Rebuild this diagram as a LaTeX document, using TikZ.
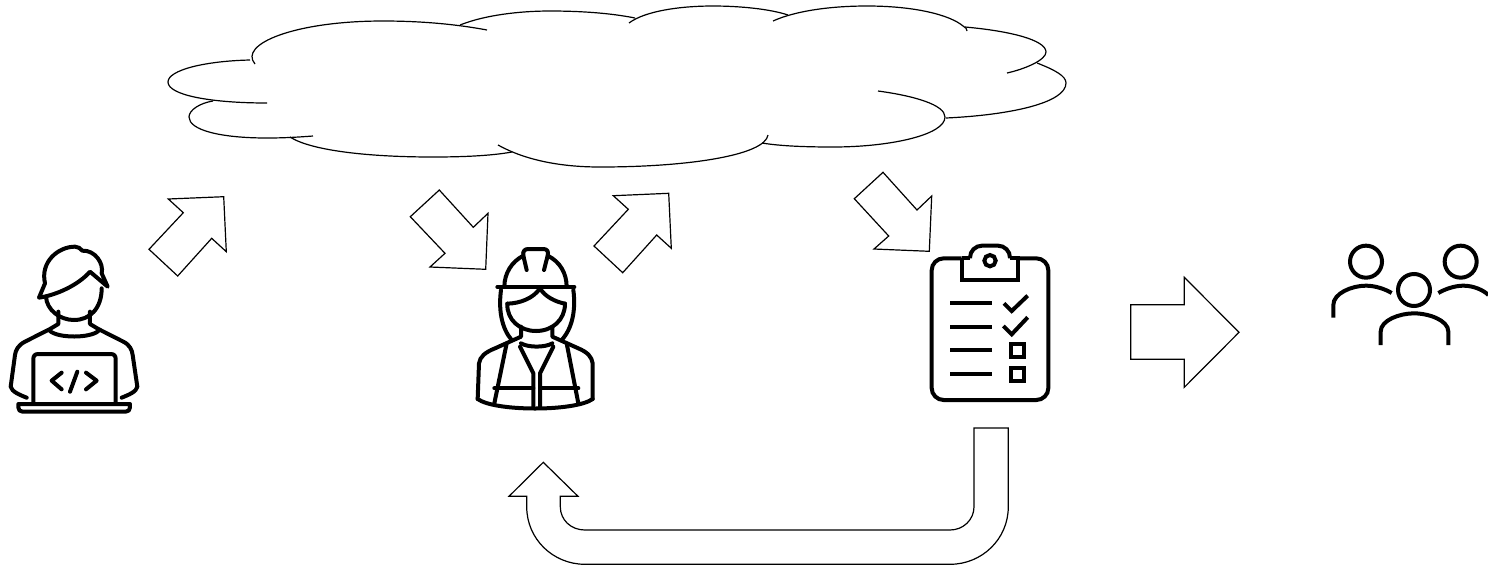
\documentclass[tikz,border=0pt]{standalone}
\tikzset{
  cloudline/.style={line width=0.6pt,black},
  blockarrow/.style={line width=0.6pt,black,line join=miter},
  iconline/.style={line width=2pt,black,line cap=round,line join=round},
  iconbutt/.style={line width=2pt,black,line cap=butt,line join=miter},
  zoomed/.style={scale=0.33333}
}
\begin{document}
\begin{tikzpicture}[x=0.5pt,y=-0.5pt]
\useasboundingbox (0,0) rectangle (1488,569);
% cloud
\begin{scope}[cloudline]
\draw (255,64) .. controls (238,44) and (295,21) .. (383,21) .. controls (420,21) and (455,24) .. (487,30);
\draw (460,25) .. controls (485,15) and (520,11) .. (550,11) .. controls (580,11) and (610,13) .. (635,18);
\draw (629,23) .. controls (645,11) and (680,6) .. (713,6) .. controls (740,6) and (770,9) .. (788,15);
\draw (773,21) .. controls (795,11) and (830,6) .. (867,6) .. controls (915,6) and (950,15) .. (963,26) .. controls (966,28) and (967,29) .. (967,31);
\draw (965,27) .. controls (1010,31) and (1046,40) .. (1046,52) .. controls (1046,60) and (1025,69) .. (1007,73);
\draw (1037,63) .. controls (1055,70) and (1066,76) .. (1066,83) .. controls (1066,103) and (1010,115) .. (946,118);
\draw (878,91) .. controls (915,96) and (945,105) .. (945,117) .. controls (945,135) and (890,147) .. (833,147) .. controls (805,147) and (780,146) .. (762,143);
\draw (768,135) .. controls (765,155) and (690,167) .. (600,167) .. controls (560,167) and (525,160) .. (498,145);
\draw (512,152) .. controls (490,156) and (460,157) .. (433,157) .. controls (365,157) and (310,150) .. (290,137);
\draw (313,136) .. controls (300,137) and (285,138) .. (267,138) .. controls (220,138) and (189,130) .. (189,117) .. controls (189,110) and (200,103) .. (213,101);
\draw (267,103) .. controls (210,103) and (168,95) .. (168,82) .. controls (168,70) and (205,61) .. (250,60);
\end{scope}
% block arrows
\draw[blockarrow] (168.3,199) -- (223.7,196.7) -- (226.3,251.7) -- (211.7,238.3) -- (177.7,276) -- (149,249.3) -- (183.3,212.7) -- cycle;
\draw[blockarrow] (439.3,190) -- (410.3,216.7) -- (445,253.3) -- (430,267) -- (485.7,269.3) -- (488,213.3) -- (473.3,227.3) -- cycle;
\draw[blockarrow] (613.3,195.7) -- (668.7,193.3) -- (671.3,248.3) -- (656.7,235) -- (622.7,272.7) -- (594,246) -- (628.3,209.3) -- cycle;
\draw[blockarrow] (883,172.3) -- (854.3,198.7) -- (888.7,236) -- (874,249) -- (929.3,251.3) -- (931.7,196) -- (917,210) -- cycle;
\draw[blockarrow] (1184.3,277.3) -- (1239,332.3) -- (1184.3,387.3) -- (1184.3,359.3) -- (1130.7,359.3) -- (1130.7,304.7) -- (1184.3,304.7) -- cycle;
\draw[blockarrow] (543.3,462.3) -- (578,496.3) -- (560.3,496.3) -- (560.3,506.7)
  .. controls (560.3,520) and (571,530) .. (585,530) -- (950,530)
  .. controls (963,530) and (974,520) .. (974,506.7) -- (974,428) -- (1008.3,428) -- (1008.3,506.7)
  .. controls (1008.3,539) and (982,564.3) .. (950,564.3) -- (585,564.3)
  .. controls (553,564.3) and (526.7,539) .. (526.7,506.7) -- (526.7,496.3) -- (509,496.3) -- cycle;
% coder
\begin{scope}[shift={(0,230)},zoomed,iconline]
\draw (117,203) -- (135,160) .. controls (120,95) and (175,50) .. (225,50) .. controls (235,50) and (240,55) .. (247,62) .. controls (285,60) and (312,100) .. (305,130) -- (323,170) -- (270,125) .. controls (235,165) and (170,195) .. (117,203) -- cycle;
\draw (138,200) .. controls (140,240) and (180,270) .. (222,270) .. controls (270,270) and (305,235) .. (305,175);
\draw (175,245) -- (175,282) -- (150,297) -- (75,335) .. controls (55,345) and (47,360) .. (45,375) -- (32,470) .. controls (35,485) and (60,495) .. (80,503);
\draw (270,245) -- (270,282) -- (295,297) -- (370,335) .. controls (390,345) and (396,360) .. (398,375) -- (412,470) .. controls (410,485) and (385,495) .. (365,503);
\draw (150,303) .. controls (175,325) and (270,325) .. (295,303);
\draw (100,520) -- (100,387) .. controls (100,377) and (105,372) .. (115,372) -- (332,372) .. controls (342,372) and (347,377) .. (347,387) -- (347,520);
\draw (55,522) -- (390,522) -- (390,532) .. controls (390,540) and (385,545) .. (377,545) -- (68,545) .. controls (60,545) and (55,540) .. (55,532) -- cycle;
\draw (185,428) -- (155,452) -- (185,478);
\draw (232,425) -- (210,485);
\draw (258,428) -- (290,452) -- (258,478);
\end{scope}
% worker
\begin{scope}[shift={(465,235)},zoomed,iconline]
\draw (97,156) -- (328,156);
\draw (118,156) .. controls (118,115) and (140,80) .. (175,62);
\draw (305,156) .. controls (305,115) and (285,80) .. (248,62);
\draw (185,105) -- (175,62) .. controls (172,48) and (180,42) .. (190,42) -- (235,42) .. controls (245,42) and (252,48) .. (248,62) -- (237,105);
\draw (108,165) .. controls (100,225) and (110,280) .. (140,315);
\draw (325,165) .. controls (333,225) and (322,280) .. (290,315);
\draw (127,206) .. controls (165,205) and (205,190) .. (225,160) .. controls (240,185) and (270,200) .. (300,206);
\draw (127,206) .. controls (125,255) and (165,288) .. (213,288) .. controls (262,288) and (300,255) .. (300,206);
\draw (168,275) -- (168,305) -- (90,340) .. controls (60,352) and (45,365) .. (42,385) -- (38,492);
\draw (262,275) -- (262,305) -- (340,340) .. controls (368,352) and (380,365) .. (383,385) -- (383,492);
\draw (168,325) .. controls (190,338) and (240,338) .. (262,325);
\draw (38,492) .. controls (90,530) and (330,530) .. (383,492);
\draw (125,325) -- (88,505);
\draw (305,325) -- (340,505);
\draw (165,335) -- (205,415) -- (205,515);
\draw (265,335) -- (225,415) -- (225,515);
\draw (88,460) -- (205,460);
\draw (225,460) -- (340,460);
\end{scope}
% clipboard
\begin{scope}[shift={(920,235)},zoomed,iconbutt]
\draw[rounded corners=6pt] (125,70) -- (35,70) -- (35,495) -- (385,495) -- (385,70) -- (295,70);
\draw (125,70) -- (125,135) -- (295,135) -- (295,70) -- (270,70);
\draw[rounded corners=6pt] (270,70) -- (270,32) -- (150,32) -- (150,70);
\draw (150,70) -- (125,70);
\draw (210,77) circle [radius=17];
\draw (90,204) -- (215,204);
\draw (90,275) -- (215,275);
\draw (90,346) -- (215,346);
\draw (90,417) -- (215,417);
\draw (252,205) -- (275,228) -- (323,182);
\draw (250,273) -- (275,298) -- (323,247);
\draw (272,327) rectangle (312,367);
\draw (272,398) rectangle (312,438);
\end{scope}
% people
\begin{scope}[shift={(1320,235)},zoomed,iconbutt]
\draw (138,80) circle [radius=48];
\draw (422,80) circle [radius=48];
\draw (282,165) circle [radius=48];
\draw (40,248) -- (40,210) .. controls (40,175) and (95,152) .. (138,152) .. controls (165,152) and (195,162) .. (215,174);
\draw (355,174) .. controls (375,162) and (405,152) .. (430,152) .. controls (460,152) and (490,165) .. (505,180);
\draw (182,330) -- (182,290) .. controls (182,255) and (240,235) .. (282,235) .. controls (325,235) and (385,255) .. (385,290) -- (385,330);
\end{scope}
\end{tikzpicture}
\end{document}
